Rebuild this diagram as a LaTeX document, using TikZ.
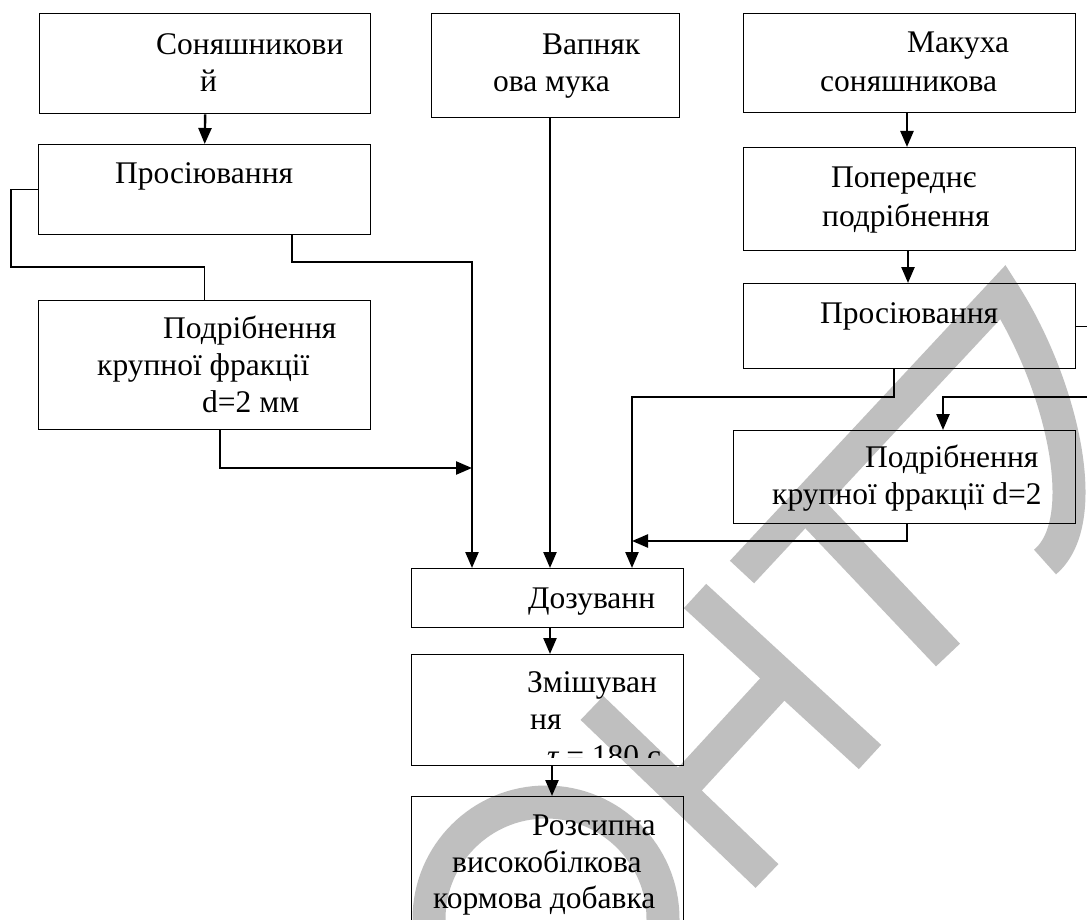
\documentclass[tikz,border=0pt]{standalone}
\usepackage{fontspec}
\setmainfont{Liberation Serif}
\usetikzlibrary{arrows.meta}
\begin{document}
\begin{tikzpicture}[x=1pt,y=-1pt,
  box/.style={draw,line width=1.4pt,inner sep=0pt,anchor=north west},
  txt/.style={anchor=base west,inner sep=0pt,font=\fontsize{31.5}{37}\selectfont},
  conn/.style={line width=2.4pt},
  thinconn/.style={line width=1.4pt},
  arr/.style={conn,-{Triangle[length=16pt,width=13pt]}},
  wm/.style={line width=33pt,color=black!25}]
\useasboundingbox (0,0) rectangle (1087,920);
\fill[white] (0,0) rectangle (1087,920);
% watermark
\draw[wm] (546,919) circle[radius=117pt];
\draw[wm] (592,708) -- (767,876);
\draw[wm] (695,596) -- (870,757);
\draw[wm] (678,792) -- (781,680);
\draw[wm] (806,505) -- (948,655);
\draw[wm,line join=miter] (742,572) -- (1003,292) .. controls (1060,380) and (1095,520) .. (1045,562);
% boxes
\node[box,minimum width=331pt,minimum height=100pt] (A) at (39,13) {};
\node[box,minimum width=248pt,minimum height=104pt] (B) at (431,13) {};
\node[box,minimum width=332pt,minimum height=99pt] (M) at (743,13) {};
\node[box,minimum width=332pt,minimum height=103pt] (PP) at (743,147) {};
\node[box,minimum width=332pt,minimum height=90pt] (P1) at (38,144) {};
\node[box,minimum width=332pt,minimum height=129pt] (D1) at (38,300) {};
\node[box,minimum width=332pt,minimum height=85pt] (P2) at (743,283) {};
\node[box,minimum width=342pt,minimum height=93pt] (D2) at (733,430) {};
\node[box,minimum width=272pt,minimum height=59pt] (Dose) at (411,568) {};
\node[box,minimum width=272pt,minimum height=111pt] (Mix) at (411,654) {};
\node[box,minimum width=272pt,minimum height=140pt] (Fin) at (411,796) {};
% texts
\node[txt] (tA1) at (156,55) {Соняшникови};
\node[txt] (tA2) at (200,92) {й};
\node[txt] (tB1) at (542,55) {Вапняк};
\node[txt] (tB2) at (493,92) {ова мука};
\node[txt] (tM1) at (907,53) {Макуха};
\node[txt] (tM2) at (820,92) {соняшникова};
\node[txt] (tPP1) at (831,188) {Попереднє};
\node[txt] (tPP2) at (822,226) {подрібнення};
\node[txt] (tP1) at (115,184) {Просіювання};
\node[txt] (tD1a) at (163,338) {Подрібнення};
\node[txt] (tD1b) at (97,375) {крупної фракції};
\node[txt] (tD1c) at (202,412) {d=2 мм};
\node[txt] (tP2) at (820,323) {Просіювання};
\node[txt] (tD2a) at (865,467) {Подрібнення};
\node[txt] (tD2b) at (772,504) {крупної фракції d=2};
\node[txt] (tDose) at (528,608) {Дозуванн};
\node[txt] (tMix1) at (527,692) {Змішуван};
\node[txt] (tMix2) at (530,729) {ня};
\begin{scope}
\clip (411,654) rectangle (683,757);
\node[txt] (tMix3) at (547,766) {{\itshape τ} = 180 с};
\end{scope}
\node[txt] (tFin1) at (532,835) {Розсипна};
\node[txt] (tFin2) at (452,872) {високобілкова};
\node[txt] (tFin3) at (433,908) {кормова добавка};
% helper coordinates
\coordinate (l2) at (11,267);
\coordinate (x292) at (292,262);
\coordinate (x472) at (472,262);
\coordinate (y468) at (220,468);
\coordinate (x550) at (550,0);
\coordinate (x552) at (552,0);
\coordinate (x907) at (907,0);
\coordinate (x908) at (908,0);
\coordinate (b894) at (894,397);
\coordinate (b632) at (632,397);
\coordinate (r397) at (1090,397);
\coordinate (c943) at (943,397);
\coordinate (c907) at (907,541);
\coordinate (redge) at (1090,0);
% connectors
\draw[arr] (A.south) -- (P1.north);
\draw[thinconn] (P1.west) -| (l2) -| (D1.north);
\draw[arr] (P1.south -| x292) -- (x292) -- (x472) -- (Dose.north -| x472);
\draw[arr] (D1.south -| y468) -- (y468) -- (x472 |- y468);
\draw[arr] (B.south -| x550) -- (Dose.north -| x550);
\draw[arr] (Dose.south -| x550) -- (Mix.north -| x550);
\draw[arr] (Mix.south -| x552) -- (Fin.north -| x552);
\draw[arr] (M.south -| x907) -- (PP.north -| x907);
\draw[arr] (PP.south -| x908) -- (P2.north -| x908);
\draw[thinconn] (P2.east) -- (P2.east -| redge);
\draw[arr] (P2.south -| b894) -- (b894) -- (b632) -- (Dose.north -| b632);
\draw[arr] (r397) -- (c943) -- (D2.north -| c943);
\draw[arr] (D2.south -| c907) -- (c907) -- (b632 |- c907);
\end{tikzpicture}
\end{document}
